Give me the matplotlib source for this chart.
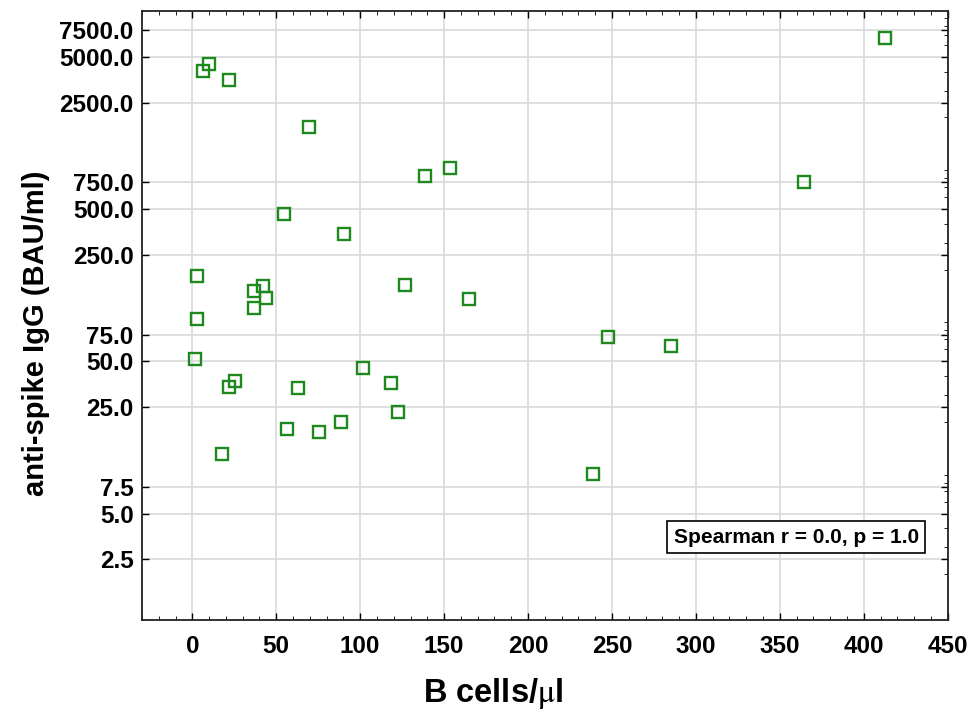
import numpy as np
import matplotlib
matplotlib.use("Agg")
import matplotlib.pyplot as plt
from matplotlib.ticker import FixedLocator, MultipleLocator, LogLocator, NullFormatter

plt.rcParams['font.family'] = ['Liberation Sans', 'DejaVu Sans']
plt.rcParams['mathtext.fontset'] = 'stix'

# B cells/ul vs anti-spike IgG (BAU/ml)
b_cells = [6.5, 10.0, 22.0, 69.6, 54.4, 90.5, 138.7, 153.8, 412.7, 364.7,
           2.8, 41.9, 36.9, 43.9, 36.9, 2.8, 1.4, 21.6, 25.6, 62.7,
           56.4, 75.6, 17.7, 126.8, 164.9, 247.8, 101.6, 118.5, 122.4, 88.7,
           238.5, 285.1]
igg = [4036, 4487, 3523, 1722, 466, 341, 828, 935, 6680, 753,
       183, 157, 145.5, 131, 112.5, 94.9, 51.6, 33.8, 37.3, 33.4,
       17.9, 17.2, 12.3, 158.6, 128.3, 72.6, 45.4, 36.2, 23.2, 20.1,
       9.1, 63.0]

y_ticks = [2.5, 5.0, 7.5, 25.0, 50.0, 75.0, 250.0, 500.0, 750.0, 2500.0, 5000.0, 7500.0]
x_ticks = [0, 50, 100, 150, 200, 250, 300, 350, 400, 450]
stats_text = "Spearman r = 0.0, p = 1.0"

fig = plt.figure(figsize=(9.79, 7.11), dpi=100)
ax = fig.add_axes([0.145, 0.128, 0.823, 0.8565])

ax.plot(b_cells, igg, linestyle='none', marker='s', markersize=8.5,
        markerfacecolor='none', markeredgecolor='#1e8a1e', markeredgewidth=1.7,
        zorder=3)

ax.set_yscale('log')
ax.set_ylim(1, 10000)
ax.set_xlim(-30, 450)

ax.yaxis.set_major_locator(FixedLocator(y_ticks))
ax.set_yticklabels(["%.1f" % v for v in y_ticks])
ax.yaxis.set_minor_locator(LogLocator(base=10, subs=np.arange(2, 10), numticks=20))
ax.yaxis.set_minor_formatter(NullFormatter())
ax.xaxis.set_major_locator(FixedLocator(x_ticks))
ax.xaxis.set_minor_locator(MultipleLocator(10))

ax.grid(True, which='major', color='#d9d9d9', linewidth=1.2, zorder=0)
ax.set_axisbelow(True)

ax.tick_params(axis='both', which='major', direction='in', length=5, width=1,
               labelsize=17.5)
ax.tick_params(axis='x', which='both', top=True, bottom=True, direction='in', pad=11)
ax.tick_params(axis='x', which='minor', length=3)
ax.tick_params(axis='y', which='major', left=True, right=True, pad=6)
ax.tick_params(axis='y', which='minor', left=False, right=True, direction='in', length=3)
for lab in ax.get_xticklabels() + ax.get_yticklabels():
    lab.set_fontweight('bold')

for sp in ax.spines.values():
    sp.set_linewidth(1.3)
    sp.set_color('#222222')

ax.set_xlabel("B cells/$\\mathrm{\\mu}$l", fontsize=23.5, fontweight='bold')
ax.xaxis.set_label_coords(0.4355, -0.092)
ax.set_ylabel("anti-spike IgG (BAU/ml)", fontsize=21, fontweight='bold')
ax.yaxis.set_label_coords(-0.114, 0.471)

ax.text(0.964, 0.136, stats_text, transform=ax.transAxes, ha='right', va='center',
        fontsize=15, fontweight='bold',
        bbox=dict(boxstyle='square,pad=0.3', facecolor='white', edgecolor='black',
                  linewidth=1.2))

fig.savefig("out.png", dpi=100)
